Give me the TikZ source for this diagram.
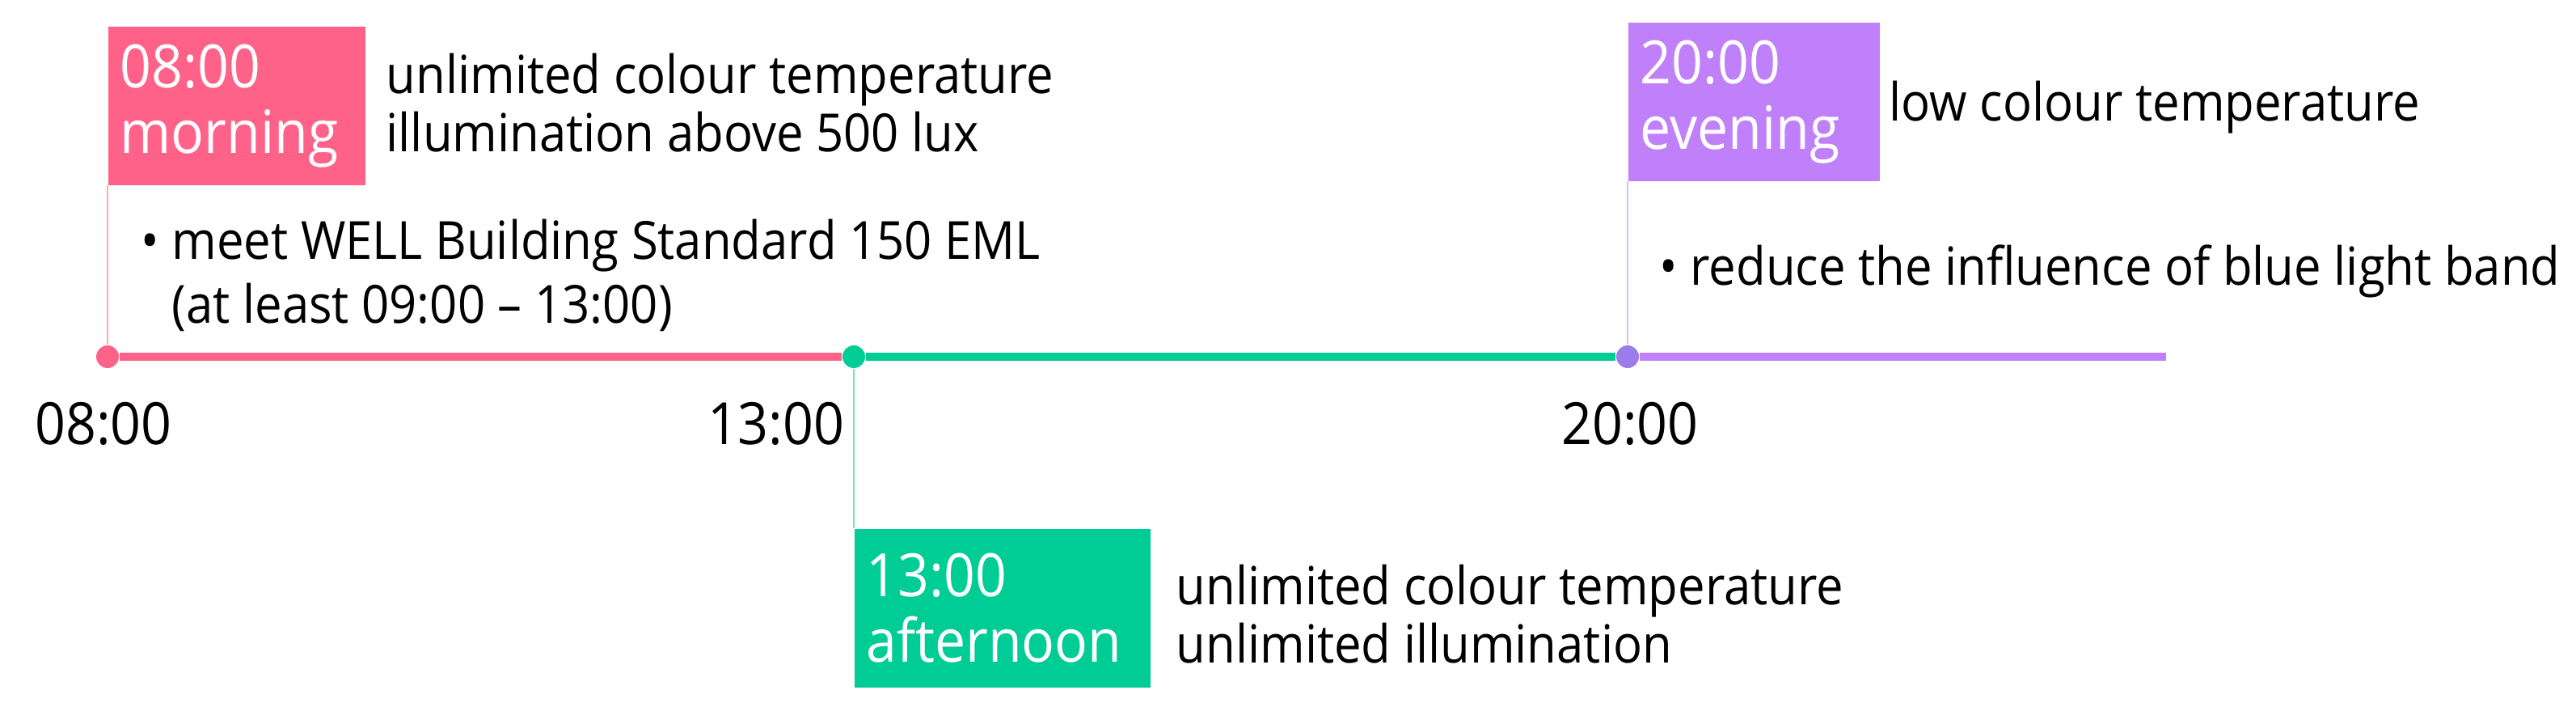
\documentclass[tikz,border=0pt]{standalone}
\usepackage{fontspec}
\setmainfont{Open Sans}[FakeStretch=0.92]
\usepackage{tikz}
\usetikzlibrary{positioning}
\definecolor{morningc}{HTML}{FF6289}
\definecolor{noonc}{HTML}{00CC96}
\definecolor{eveningc}{HTML}{BF80FA}
\definecolor{eveningdot}{HTML}{9B7CEB}

\begin{document}
\begin{tikzpicture}[
  phasebox/.style={fill=#1, text=white, anchor=north west, align=left, inner xsep=0.15cm,
    minimum height=1.96cm, font=\fontsize{21}{23}\selectfont},
  desc/.style={anchor=base west, align=left, inner sep=0pt, font=\fontsize{18.5}{20.7}\selectfont},
  hour/.style={anchor=base, inner sep=0pt, font=\fontsize{20.5}{23}\selectfont},
  tdot/.style={circle, fill=#1, inner sep=0pt, minimum size=0.28cm},
  seg/.style={#1, line width=2.6pt},
  stem/.style={#1!55, line width=0.6pt}
]
  \useasboundingbox (0,0) rectangle (31.86,8.95);

  % time points on the line
  \node[tdot=morningc] (d1) at (1.33,4.54) {};
  \node[tdot=noonc] (d2) at (10.56,4.54) {};
  \node[tdot=eveningdot] (d3) at (20.13,4.54) {};
  \coordinate (tend) at (26.79,4.54);

  \draw[seg=morningc] (d1) -- (d2);
  \draw[seg=noonc] (d2) -- (d3);
  \draw[seg=eveningc] (d3) -- (tend);

  \node[hour] (h1) at (1.28,3.45) {08:00};
  \node[hour, anchor=base east] (h2) at (10.45,3.45) {13:00};
  \node[hour] (h3) at (20.16,3.45) {20:00};

  % phase boxes
  \node[phasebox=morningc, text width=2.88cm] (mbox) at (1.33,8.63) {08:00\\morning};
  \node[phasebox=noonc, text width=3.36cm] (abox) at (10.56,2.42) {13:00\\afternoon};
  \node[phasebox=eveningc, text width=2.81cm] (ebox) at (20.13,8.68) {20:00\\evening};

  \draw[stem=morningc] (mbox.south west) -- (d1);
  \draw[stem=noonc] (d2) -- (abox.north west);
  \draw[stem=eveningc] (ebox.south west) -- (d3);

  % requirements (base = last line)
  \node[desc] (mtext) at (4.77,7.07) {unlimited colour temperature\\illumination above 500 lux};
  \node[desc] (mnote) at (1.74,4.95) {\textbullet\ meet WELL Building Standard 150 EML\\[2pt]
    \phantom{\textbullet\ }(at least 09:00 -- 13:00)};
  \node[desc] (atext) at (14.54,0.75) {unlimited colour temperature\\unlimited illumination};
  \node[desc] (etext) at (23.36,7.45) {low colour temperature};
  \node[desc] (enote) at (20.52,5.42) {\textbullet\ reduce the influence of blue light band};
\end{tikzpicture}
\end{document}
